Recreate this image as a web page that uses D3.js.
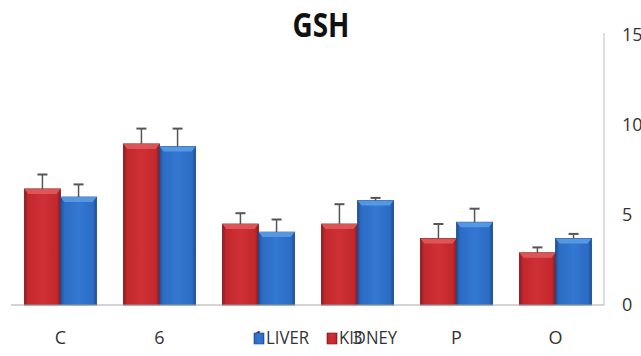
<!DOCTYPE html>
<html>
<head>
<meta charset="utf-8">
<script src="https://cdn.jsdelivr.net/npm/d3@7"></script>
<style>
  body { margin: 0; background: #fff; }
  svg { display: block; font-family: "Liberation Sans Narrow", "Open Sans", sans-serif; }
</style>
</head>
<body>
<div id="chart"></div>
<script>
// data
const groups = ["C", "6", "1", "3", "P", "O"];
const kidney = [6.45, 8.95, 4.5, 4.5, 3.7, 2.9];
const kidneyErr = [0.8, 0.85, 0.6, 1.1, 0.8, 0.3];
const liver = [6.0, 8.8, 4.05, 5.8, 4.6, 3.7];
const liverErr = [0.7, 1.0, 0.7, 0.15, 0.75, 0.25];
const yTicks = [0, 5, 10, 15];

const width = 641, height = 356;
const margin = { top: 35, right: 37, bottom: 51, left: 11 };

const svg = d3.select("#chart")
    .append("svg")
    .attr("width", width)
    .attr("height", height);

const defs = svg.append("defs");

function barGradient(id, dark, mid, light) {
    const g = defs.append("linearGradient")
        .attr("id", id)
        .attr("x1", "0%").attr("x2", "100%")
        .attr("y1", "0%").attr("y2", "0%");
    g.append("stop").attr("offset", "0%").attr("stop-color", dark);
    g.append("stop").attr("offset", "10%").attr("stop-color", mid);
    g.append("stop").attr("offset", "50%").attr("stop-color", light);
    g.append("stop").attr("offset", "90%").attr("stop-color", mid);
    g.append("stop").attr("offset", "100%").attr("stop-color", dark);
}
barGradient("gradK", "#8a1c1f", "#c2282d", "#cf3036");
barGradient("gradL", "#1d4e92", "#2c6cc4", "#3378d2");

const series = [
    { key: "KIDNEY", values: kidney, errs: kidneyErr, fill: "url(#gradK)", top: "#e0595b", edge: "#7a1a1c" },
    { key: "LIVER", values: liver, errs: liverErr, fill: "url(#gradL)", top: "#5b9be3", edge: "#1b4a8a" }
];

const x = d3.scaleBand()
    .domain(groups)
    .range([margin.left, 605])
    .paddingInner(0.27)
    .paddingOuter(0.135);

const xs = d3.scaleBand()
    .domain(series.map(s => s.key))
    .range([0, x.bandwidth()]);

const y = d3.scaleLinear()
    .domain([0, 15])
    .range([height - margin.bottom, margin.top]);

// right axis
const axisX = width - margin.right;
svg.append("line")
    .attr("x1", axisX).attr("x2", axisX)
    .attr("y1", y(15) - 2).attr("y2", y(0))
    .attr("stroke", "#bdbdbd");

svg.append("g")
    .selectAll("text")
    .data(yTicks)
    .join("text")
    .attr("x", axisX + 18)
    .attr("y", d => y(d))
    .attr("dy", "0.36em")
    .attr("font-size", 18)
    .attr("fill", "#333")
    .text(d => d);

// bars
series.forEach(s => {
    const g = svg.append("g");
    const bw = xs.bandwidth();
    const bev = 5;

    g.selectAll("rect")
        .data(groups)
        .join("rect")
        .attr("x", (d, i) => x(d) + xs(s.key))
        .attr("y", (d, i) => y(s.values[i]))
        .attr("width", bw)
        .attr("height", (d, i) => y(0) - y(s.values[i]))
        .attr("fill", s.fill)
        .attr("stroke", s.edge)
        .attr("stroke-width", 0.8);

    // bevelled top face
    g.selectAll("path.bevel")
        .data(groups)
        .join("path")
        .attr("class", "bevel")
        .attr("d", (d, i) => {
            const x0 = x(d) + xs(s.key), x1 = x0 + bw, yt = y(s.values[i]);
            return `M${x0},${yt}L${x1},${yt}L${x1 - 4},${yt + bev}L${x0 + 4},${yt + bev}Z`;
        })
        .attr("fill", s.top)
        .attr("opacity", 0.9);

    // error bars
    const cx = (d) => x(d) + xs(s.key) + bw / 2;
    g.selectAll("line.err")
        .data(groups)
        .join("line")
        .attr("class", "err")
        .attr("x1", cx).attr("x2", cx)
        .attr("y1", (d, i) => y(s.values[i]))
        .attr("y2", (d, i) => y(s.values[i] + s.errs[i]))
        .attr("stroke", "#555")
        .attr("stroke-width", 1.5);

    g.selectAll("line.cap")
        .data(groups)
        .join("line")
        .attr("class", "cap")
        .attr("x1", d => cx(d) - 5).attr("x2", d => cx(d) + 5)
        .attr("y1", (d, i) => y(s.values[i] + s.errs[i]))
        .attr("y2", (d, i) => y(s.values[i] + s.errs[i]))
        .attr("stroke", "#555")
        .attr("stroke-width", 2);
});

// baseline
svg.append("line")
    .attr("x1", margin.left).attr("x2", axisX)
    .attr("y1", y(0)).attr("y2", y(0))
    .attr("stroke", "#a8a8a8");

// category labels
svg.append("g")
    .selectAll("text")
    .data(groups)
    .join("text")
    .attr("x", d => x(d) + x.bandwidth() / 2)
    .attr("y", 344)
    .attr("text-anchor", "middle")
    .attr("font-size", 18)
    .attr("fill", "#333")
    .text(d => d);

// title
svg.append("text")
    .attr("x", 321)
    .attr("y", 37)
    .attr("text-anchor", "middle")
    .attr("font-size", 34)
    .attr("font-weight", "bold")
    .attr("textLength", 57)
    .attr("lengthAdjust", "spacingAndGlyphs")
    .attr("fill", "#111")
    .text("GSH");

// legend (sits over the axis labels, as in the source)
const legend = [
    { key: "LIVER", fill: "url(#gradL)", edge: "#1b4a8a", x: 254, w: 43 },
    { key: "KIDNEY", fill: "url(#gradK)", edge: "#7a1a1c", x: 327, w: 58 }
];
const lg = svg.append("g");
lg.selectAll("rect")
    .data(legend)
    .join("rect")
    .attr("x", d => d.x)
    .attr("y", 333)
    .attr("width", 10)
    .attr("height", 11)
    .attr("fill", d => d.fill)
    .attr("stroke", d => d.edge)
    .attr("stroke-width", 0.6);
lg.selectAll("text")
    .data(legend)
    .join("text")
    .attr("x", d => d.x + 12)
    .attr("y", 344)
    .attr("font-size", 18)
    .attr("textLength", d => d.w)
    .attr("lengthAdjust", "spacingAndGlyphs")
    .attr("fill", "#333")
    .text(d => d.key);
</script>
</body>
</html>
